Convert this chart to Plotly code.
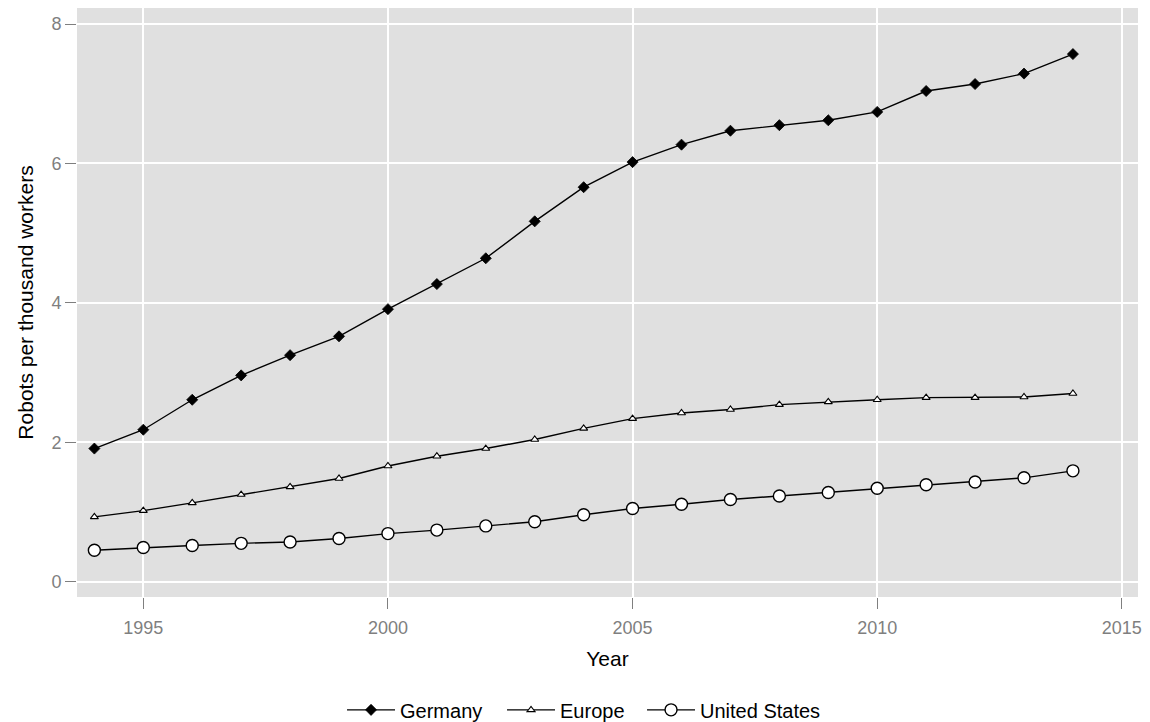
import plotly.graph_objects as go

years = list(range(1994, 2015))
germany = [1.91, 2.18, 2.61, 2.96, 3.25, 3.52, 3.91, 4.27, 4.64, 5.17, 5.66, 6.02,
           6.27, 6.47, 6.55, 6.62, 6.74, 7.04, 7.14, 7.29, 7.57]
europe = [0.93, 1.02, 1.13, 1.25, 1.36, 1.48, 1.66, 1.80, 1.91, 2.04, 2.20, 2.34,
          2.42, 2.47, 2.54, 2.58, 2.61, 2.64, 2.64, 2.65, 2.70]
united_states = [0.45, 0.49, 0.52, 0.55, 0.57, 0.62, 0.69, 0.74, 0.80, 0.86, 0.96, 1.05,
                 1.11, 1.18, 1.23, 1.28, 1.34, 1.39, 1.43, 1.49, 1.59]

x_ticks = [1995, 2000, 2005, 2010, 2015]
y_ticks = [0, 2, 4, 6, 8]

fig = go.Figure()
fig.add_trace(go.Scatter(
    x=years, y=germany, name="Germany", mode="lines+markers", legend="legend",
    line=dict(color="black", width=1.4),
    marker=dict(symbol="diamond", size=8.5, color="black", line=dict(color="black", width=0.8)),
))
fig.add_trace(go.Scatter(
    x=years, y=europe, name="Europe", mode="lines+markers", legend="legend2",
    line=dict(color="black", width=1.4),
    marker=dict(symbol="triangle-up", size=7, color="white", line=dict(color="black", width=1.1)),
))
fig.add_trace(go.Scatter(
    x=years, y=united_states, name="United States", mode="lines+markers", legend="legend3",
    line=dict(color="black", width=1.4),
    marker=dict(symbol="circle", size=12, color="white", line=dict(color="black", width=1.4)),
))

def leg(xpos):
    return dict(
        orientation="h", xref="container", x=xpos, xanchor="left",
        yref="container", y=0.017, yanchor="middle", itemwidth=48,
        font=dict(size=20, color="black"), bgcolor="rgba(0,0,0,0)",
    )

fig.update_layout(
    width=1142, height=714,
    margin=dict(l=69, r=12, t=0, b=125),
    paper_bgcolor="white",
    plot_bgcolor="#E0E0E0",
    font=dict(family="Liberation Sans, Arial, sans-serif", size=19, color="black"),
    showlegend=True,
    legend=leg(0.2925),
    legend2=leg(0.4326),
    legend3=leg(0.5552),
    xaxis=dict(
        range=[1993.645, 2015.33], tickvals=x_ticks, ticktext=[str(v) for v in x_ticks],
        showgrid=True, gridcolor="white", gridwidth=1.6, zeroline=False,
        ticks="outside", ticklen=11, tickcolor="#7f7f7f", tickwidth=1,
        ticklabelstandoff=3,
        tickfont=dict(size=18, color="#7f7f7f"),
        title=dict(text="Year", font=dict(size=21, color="black"), standoff=14),
        showline=False,
    ),
    yaxis=dict(
        range=[-0.22, 8.231], tickvals=y_ticks, ticktext=[str(v) for v in y_ticks],
        showgrid=True, gridcolor="white", gridwidth=1.6, zeroline=False,
        ticks="outside", ticklen=11, tickcolor="#7f7f7f", tickwidth=1,
        tickfont=dict(size=18, color="#7f7f7f"),
        title=dict(text="Robots per thousand workers", font=dict(size=21, color="black"), standoff=12),
        showline=False,
    ),
)

fig.write_html("out.html")
